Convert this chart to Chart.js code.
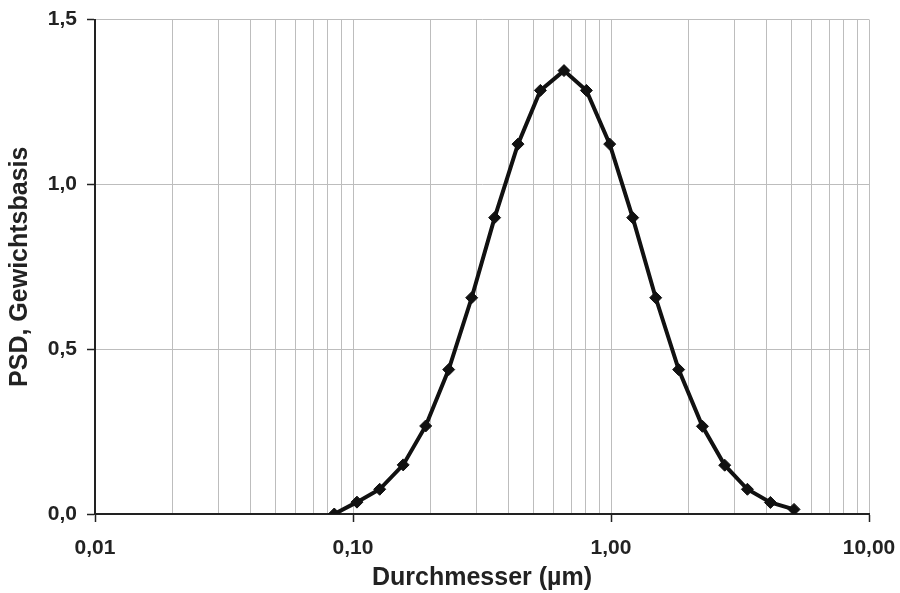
<!DOCTYPE html>
<html>
<head>
<meta charset="utf-8">
<script src="https://cdn.jsdelivr.net/npm/chart.js@4/dist/chart.umd.min.js"></script>
<style>
  html, body { margin: 0; padding: 0; background: #ffffff; }
  #wrap { width: 900px; height: 593px; }
</style>
</head>
<body>
<div id="wrap"><canvas id="c" width="900" height="593"></canvas></div>
<script>
// Particle diameters (µm)
const diameters = [0.0846, 0.1036, 0.1269, 0.1565, 0.1913, 0.2349, 0.2884, 0.3540, 0.4360, 0.5325,
                   0.6574, 0.8028, 0.9886, 1.2138, 1.4902, 1.8293, 2.2614, 2.7590, 3.3786, 4.1483, 5.1219];
// PSD, mass basis
const psdValues = [0.000, 0.036, 0.075, 0.149, 0.267, 0.438, 0.656, 0.899, 1.122, 1.285,
                   1.345, 1.285, 1.122, 0.899, 0.656, 0.438, 0.266, 0.148, 0.075, 0.035, 0.014];
// Axis tick labels
const xDecades = [0.01, 0.1, 1, 10];
const xTickLabels = ['0,01', '0,10', '1,00', '10,00'];
const yTickValues = [0, 0.5, 1.0, 1.5];
const yTickLabels = ['0,0', '0,5', '1,0', '1,5'];
const xTitle = 'Durchmesser (µm)';
const yTitle = 'PSD, Gewichtsbasis';

const points = diameters.map((d, i) => ({ x: d, y: psdValues[i] }));

function isDecade(v) {
  return xDecades.some(d => Math.abs(v - d) / d < 1e-6);
}

const FONT = "'Liberation Sans', Arial, sans-serif";

new Chart(document.getElementById('c'), {
  type: 'line',
  data: {
    datasets: [{
      data: points,
      borderColor: '#111111',
      backgroundColor: '#111111',
      borderWidth: 4,
      pointStyle: 'rectRot',
      pointRadius: 6,
      pointBackgroundColor: '#111111',
      pointBorderColor: '#111111',
      pointBorderWidth: 1,
      tension: 0,
      fill: false
    }]
  },
  options: {
    responsive: false,
    devicePixelRatio: 1,
    animation: false,
    layout: { padding: { left: 0, top: 19.5, right: 31, bottom: 0 } },
    plugins: { legend: { display: false }, tooltip: { enabled: false } },
    scales: {
      x: {
        type: 'logarithmic',
        min: 0.01,
        max: 10,
        afterBuildTicks: (scale) => {
          const t = [];
          for (let e = -2; e <= 0; e++) {
            for (let m = 1; m <= 9; m++) t.push({ value: m * Math.pow(10, e) });
          }
          t.push({ value: 10 });
          scale.ticks = t;
        },
        afterFit: (scale) => {
          scale.height = 79;
          scale.paddingLeft = 0;
          scale.paddingRight = 0;
        },
        ticks: {
          autoSkip: false,
          maxRotation: 0,
          padding: 14,
          color: '#222222',
          font: { family: FONT, size: 21, weight: 'bold' },
          callback: (v) => {
            const i = xDecades.findIndex(d => Math.abs(v - d) / d < 1e-6);
            return i >= 0 ? xTickLabels[i] : '';
          }
        },
        grid: {
          color: '#bdbdbd',
          lineWidth: 1,
          tickLength: 8,
          tickColor: (ctx) => (ctx.tick && isDecade(ctx.tick.value)) ? '#222222' : 'rgba(0,0,0,0)',
          tickWidth: 1.5
        },
        border: { display: true, color: '#222222', width: 2 },
        title: {
          display: true,
          text: xTitle,
          color: '#222222',
          font: { family: FONT, size: 25, weight: 'bold' },
          padding: { top: 0, bottom: 0 }
        }
      },
      y: {
        type: 'linear',
        min: 0,
        max: 1.5,
        afterBuildTicks: (scale) => {
          scale.ticks = yTickValues.map(v => ({ value: v }));
        },
        afterFit: (scale) => {
          scale.width = 95;
          scale.paddingTop = 0;
          scale.paddingBottom = 0;
        },
        ticks: {
          padding: 10,
          color: '#222222',
          font: { family: FONT, size: 21, weight: 'bold' },
          callback: (v) => {
            const i = yTickValues.findIndex(d => Math.abs(v - d) < 1e-6);
            return i >= 0 ? yTickLabels[i] : '';
          }
        },
        grid: {
          color: '#bdbdbd',
          lineWidth: 1,
          tickLength: 8,
          tickColor: '#222222',
          tickWidth: 1.5
        },
        border: { display: true, color: '#222222', width: 2 },
        title: {
          display: true,
          text: yTitle,
          color: '#222222',
          font: { family: FONT, size: 25, weight: 'bold' },
          padding: { top: 5, bottom: 0 }
        }
      }
    }
  }
});
</script>
</body>
</html>
